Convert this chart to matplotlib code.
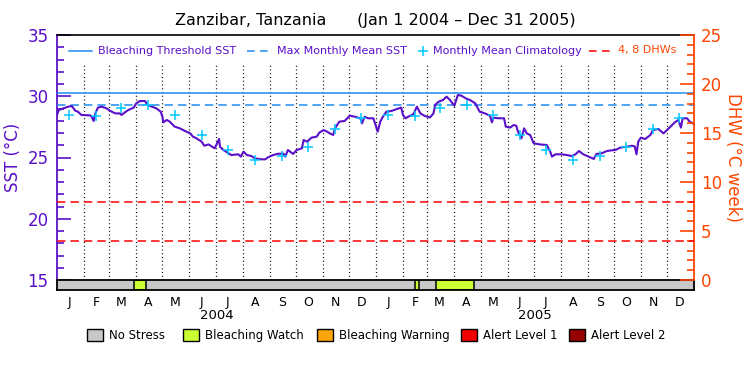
import numpy as np
import pandas as pd
import matplotlib
matplotlib.use("Agg")
import matplotlib.pyplot as plt
from matplotlib.lines import Line2D
from matplotlib.patches import Rectangle

# ---------------- data ----------------
start = pd.Timestamp("2004-01-01")
end = pd.Timestamp("2006-01-01")

sst_days = [0, 2, 13, 17, 21, 24, 28, 38, 40, 42, 44, 47, 51, 57, 61, 67, 72, 74, 78, 82,
            88, 91, 95, 101, 104, 109, 114, 119, 121, 122, 126, 129, 132, 135, 141, 147,
            153, 156, 160, 166, 169, 174, 178, 181, 186, 187, 191, 197, 200, 208, 211, 214,
            218, 223, 227, 235, 239, 242, 248, 254, 260, 262, 265, 271, 275, 281, 283, 287,
            292, 298, 301, 306, 310, 313, 317, 319, 324, 330, 336, 342, 348, 350, 353, 357,
            363, 365, 368, 371, 374, 378, 384, 390, 395, 397, 400, 403, 409, 413, 417, 422,
            428, 432, 434, 438, 443, 447, 451, 456, 460, 464, 469, 474, 480, 485, 491, 497,
            499, 501, 507, 513, 515, 520, 524, 527, 529, 533, 536, 539, 543, 547, 554, 562,
            566, 568, 572, 579, 585, 591, 595, 599, 604, 610, 616, 619, 625, 631, 637, 641,
            646, 654, 660, 663, 665, 667, 670, 675, 681, 684, 690, 696, 700, 704, 709, 713,
            716, 718, 723, 726, 731]
sst_vals = [28.47, 28.88, 29.15, 29.2, 28.82, 28.74, 28.47, 28.44, 28.3, 27.98, 28.6, 29.07,
            29.15, 29.01, 28.8, 28.6, 28.6, 28.47, 28.69, 28.88, 29.07, 29.42, 29.61, 29.61,
            29.29, 29.15, 29.01, 28.74, 28.33, 27.87, 28.06, 27.95, 27.73, 27.52, 27.38, 27.16,
            26.97, 26.7, 26.57, 26.29, 25.96, 26.07, 25.88, 25.75, 26.51, 25.88, 25.61, 25.34,
            25.2, 25.26, 25.07, 25.48, 25.2, 25.12, 24.93, 24.85, 24.85, 25.01, 25.2, 25.31,
            25.31, 25.07, 25.61, 25.29, 25.61, 25.75, 26.43, 26.29, 26.62, 26.7, 27.03, 27.24,
            27.11, 26.97, 26.84, 27.38, 27.93, 27.98, 28.41, 28.33, 28.2, 27.79, 28.33, 28.2,
            28.2, 27.79, 27.11, 27.93, 28.33, 28.74, 28.8, 28.96, 29.07, 28.47, 28.2, 28.33,
            28.53, 29.15, 28.6, 28.39, 28.27, 28.6, 29.29, 29.56, 29.69, 29.97, 29.69, 29.23,
            30.1, 30.05, 29.83, 29.69, 29.42, 28.74, 28.6, 28.41, 27.87, 28.25, 28.2, 28.2,
            27.52, 27.44, 27.65, 27.6, 27.11, 26.57, 27.38, 26.97, 26.84, 26.16, 26.07, 26.02,
            25.48, 25.07, 25.26, 25.26, 25.2, 25.12, 25.26, 25.53, 25.26, 25.07, 24.88, 25.29,
            25.34, 25.53, 25.59, 25.61, 25.8, 25.88, 25.96, 25.9, 25.26, 26.29, 26.62, 26.51,
            26.84, 27.24, 27.33, 26.97, 27.24, 27.52, 27.87, 28.06, 27.44, 28.2, 28.2, 27.93,
            27.73]

clim_months = ["Jan", "Feb", "Mar", "Apr", "May", "Jun", "Jul", "Aug", "Sep", "Oct", "Nov", "Dec"]
clim_vals = [28.44, 28.36, 29.07, 29.26, 28.44, 26.86, 25.65, 24.83, 25.10, 25.83, 27.30, 28.24]
mmm = 29.26
threshold = 30.26
dhw_levels = [4, 8]

# stress periods (start, end) dates for Bleaching Watch
watch_periods = [("2004-03-29", "2004-04-12"),
                 ("2005-02-15", "2005-02-19"),
                 ("2005-03-11", "2005-04-23")]

month_letters = ["J", "F", "M", "A", "M", "J", "J", "A", "S", "O", "N", "D"]
years = [2004, 2005]

legend_cats = ["No Stress", "Bleaching Watch", "Bleaching Warning", "Alert Level 1", "Alert Level 2"]
legend_cols = ["#C8C8C8", "#CCFF33", "#FAA50A", "#F00000", "#960000"]

# ---------------- styling ----------------
PURPLE = "#5A10C8"
ORANGE = "#FF4600"
BLUE = "#1E8CF0"
CYAN = "#00C8FF"
DASH = (0, (5.5, 3.3))

fig = plt.figure(figsize=(7.5, 3.75), dpi=100)
W, H = 750.0, 375.0
L, R, T, B, BB = 57, 694, 35, 280, 290
ax = fig.add_axes([L / W, 1 - B / H, (R - L) / W, (B - T) / H])
axb = fig.add_axes([L / W, 1 - BB / H, (R - L) / W, (BB - B) / H])

sst_dates = [start + pd.Timedelta(days=d) for d in sst_days]
ax.plot(sst_dates, sst_vals, color=PURPLE, lw=1.5, zorder=5)

# climatology markers mid-month both years
for yr in years:
    cd = [pd.Timestamp(f"{yr}-{i+1:02d}-15") for i in range(12)]
    ax.plot(cd, clim_vals, ls="none", marker="+", ms=7, mew=1.1, color=CYAN, zorder=6)

ax.axhline(threshold, color=BLUE, lw=1.1, zorder=3)
ax.axhline(mmm, color=BLUE, lw=1.1, ls=DASH, zorder=3)

# month dotted lines
mstarts = pd.date_range("2004-02-01", "2005-12-01", freq="MS")
for m in mstarts:
    ax.plot([m, m], [15, 32.7], color="black", lw=0.9, ls=(0, (0.8, 2.2)), zorder=2)

ax.set_xlim(start, end)
ax.set_ylim(15, 35)
ax.set_xticks([])
ax.set_yticks(range(15, 36, 5))
ax.set_yticks(range(15, 36, 1), minor=True)
ax.tick_params(axis="y", which="major", direction="in", length=10, width=1.2,
               colors=PURPLE, labelsize=12, pad=6)
ax.tick_params(axis="y", which="minor", direction="in", length=5, width=1.2, colors=PURPLE)
ax.spines["left"].set_color(PURPLE)
ax.spines["left"].set_linewidth(1.3)
ax.spines["right"].set_visible(False)
ax.spines["bottom"].set_visible(False)
ax.spines["top"].set_linewidth(1.2)
ax.set_ylabel("SST (°C)", color=PURPLE, fontsize=12, labelpad=4)

ax2 = ax.twinx()
ax2.set_ylim(0, 25)
for lv in dhw_levels:
    ax2.axhline(lv, color="#FF0000", lw=1.1, ls=DASH, zorder=3)
ax2.set_yticks(range(0, 26, 5))
ax2.set_yticks(range(0, 26, 1), minor=True)
ax2.tick_params(axis="y", which="major", direction="in", length=10, width=1.2,
                colors=ORANGE, labelsize=12, pad=5)
ax2.tick_params(axis="y", which="minor", direction="in", length=5, width=1.2, colors=ORANGE)
for s in ["left", "top", "bottom"]:
    ax2.spines[s].set_visible(False)
ax2.spines["right"].set_color(ORANGE)
ax2.spines["right"].set_linewidth(1.3)
ax2.set_ylabel("DHW (°C week)", color=ORANGE, fontsize=12, rotation=270, labelpad=14)

# top legend (manual placement in figure pixels)
def fx(px):
    return px / W

def fy(py):
    return 1 - py / H

ly = 50.5
fig.add_artist(Line2D([fx(69), fx(92)], [fy(ly), fy(ly)], color=BLUE, lw=1.1))
fig.text(fx(98), fy(ly), "Bleaching Threshold SST", color=PURPLE, fontsize=8, va="center")
fig.add_artist(Line2D([fx(247), fx(271)], [fy(ly), fy(ly)], color=BLUE, lw=1.1, ls=(0, (5, 3.5))))
fig.text(fx(277), fy(ly), "Max Monthly Mean SST", color=PURPLE, fontsize=8, va="center")
fig.add_artist(Line2D([fx(423)], [fy(ly)], color=CYAN, ls="none", marker="+", ms=7, mew=1.1))
fig.text(fx(433), fy(ly), "Monthly Mean Climatology", color=PURPLE, fontsize=8, va="center")
fig.add_artist(Line2D([fx(589), fx(613)], [fy(ly), fy(ly)], color="#FF0000", lw=1.1, ls=(0, (5, 3.5))))
fig.text(fx(618), fy(ly), "4, 8 DHWs", color=ORANGE, fontsize=8, va="center")

# stress bar
axb.set_xlim(start, end)
axb.set_ylim(0, 1)
axb.axvspan(start, end, color="#C8C8C8", zorder=1)
for s0, s1 in watch_periods:
    axb.axvspan(pd.Timestamp(s0), pd.Timestamp(s1), facecolor="#CCFF33",
                edgecolor="black", lw=1.1, zorder=2)
axb.set_yticks([])
mids = [pd.Timestamp(f"{yr}-{m:02d}-01") + pd.Timedelta(days=14) for yr in years for m in range(1, 13)]
axb.set_xticks(mids)
axb.set_xticklabels(month_letters * 2, fontsize=9)
axb.tick_params(axis="x", length=0, pad=4)
for s in axb.spines.values():
    s.set_linewidth(1.3)
for yr in years:
    mid = pd.Timestamp(f"{yr}-07-02")
    axb.text(mid, -2.5, str(yr), transform=axb.get_xaxis_transform(), ha="center",
             va="center", fontsize=9.5)

# title
fig.text(0.5, fy(20), "Zanzibar, Tanzania      (Jan 1 2004 \u2013 Dec 31 2005)",
         ha="center", va="center", fontsize=11.5)

# bottom legend (manual placement)
box_x = [87, 183, 317, 461, 569]
by = 335.5
for bx, lab, col in zip(box_x, legend_cats, legend_cols):
    fig.add_artist(Rectangle((fx(bx), fy(341)), 16 / W, 12 / H, facecolor=col,
                             edgecolor="black", lw=1.0, transform=fig.transFigure))
    fig.text(fx(bx + 22), fy(by), lab, fontsize=8.5, va="center")

fig.savefig("out.png", dpi=100)
